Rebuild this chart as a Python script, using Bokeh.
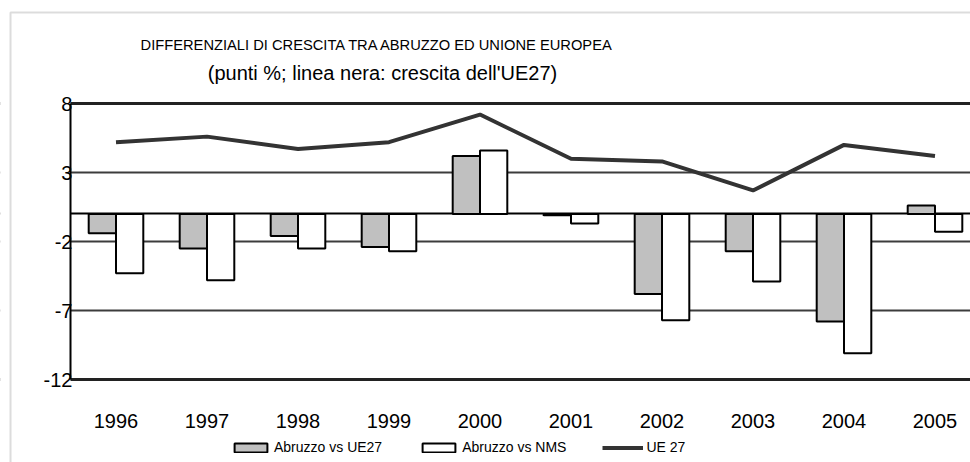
from bokeh.plotting import figure
from bokeh.models import (ColumnDataSource, FixedTicker, Legend, LegendItem,
                          Label, Grid, BoxAnnotation)
from bokeh.transform import dodge
from bokeh.embed import file_html
from bokeh.resources import INLINE

# ---- data ----
years = ["1996", "1997", "1998", "1999", "2000", "2001", "2002", "2003", "2004", "2005"]
abruzzo_vs_ue27 = [-1.4, -2.5, -1.6, -2.4, 4.2, -0.1, -5.8, -2.7, -7.8, 0.6]
abruzzo_vs_nms = [-4.3, -4.8, -2.5, -2.7, 4.6, -0.7, -7.7, -4.9, -10.1, -1.3]
ue27 = [5.2, 5.6, 4.7, 5.2, 7.2, 4.0, 3.8, 1.7, 5.0, 4.2]
y_ticks = [-12, -7, -2, 3, 8]
y_tick_labels = ["-12", "-7", "-2", "3", "8"]

title_text = "DIFFERENZIALI DI CRESCITA TRA ABRUZZO ED UNIONE EUROPEA"
subtitle_text = "(punti %; linea nera: crescita dell'UE27)"

FONT = "Liberation Sans"

idx = list(range(len(years)))
src = ColumnDataSource(dict(x=idx, a=abruzzo_vs_ue27, b=abruzzo_vs_nms, l=ue27))

# the frame covers the whole canvas; the chart area is the data box x:-0.5.., y:-12..8
p = figure(width=970, height=462, x_range=(-1.2692, 9.3901), y_range=(-18.014, 15.464),
           output_backend="svg", toolbar_location=None, title=None, min_border=0)
p.outline_line_color = None
p.background_fill_color = "white"
p.border_fill_color = "white"

AREA_X = (-0.5, 9.6)

# grid lines of the chart area
p.xgrid.visible = False
p.ygrid.ticker = FixedTicker(ticks=[-7, -2, 3])
p.ygrid.grid_line_color = "#3c3c3c"
p.ygrid.grid_line_width = 2
p.add_layout(Grid(dimension=1, ticker=FixedTicker(ticks=[-12, 8]),
                  grid_line_color="#222222", grid_line_width=3))
p.add_layout(Grid(dimension=1, ticker=FixedTicker(ticks=[0]),
                  grid_line_color="black", grid_line_width=2))
# mask the grid lines left of the chart area
p.add_layout(BoxAnnotation(left=-3, right=AREA_X[0], top=9, bottom=-13,
                           fill_color="white", fill_alpha=1, line_color=None,
                           level="underlay"))

# axes pinned to the chart area (no panel space)
p.xaxis.fixed_location = -12
p.xaxis.ticker = FixedTicker(ticks=idx)
p.xaxis.major_label_overrides = {i: y for i, y in zip(idx, years)}
p.xaxis.axis_line_color = None
p.xaxis.major_tick_line_color = None
p.xaxis.minor_tick_line_color = None
p.xaxis.major_label_standoff = 28
p.xaxis.major_label_text_font = FONT
p.xaxis.major_label_text_font_size = "20px"
p.xaxis.major_label_text_color = "black"

p.yaxis.fixed_location = -0.5
p.yaxis.ticker = FixedTicker(ticks=y_ticks)
p.yaxis.major_label_overrides = {t: s for t, s in zip(y_ticks, y_tick_labels)}
p.yaxis.bounds = (-12, 8)
p.yaxis.axis_line_color = "black"
p.yaxis.axis_line_width = 2
p.yaxis.major_tick_line_color = None
p.yaxis.minor_tick_line_color = None
p.yaxis.major_label_standoff = -8
p.yaxis.major_label_text_font = FONT
p.yaxis.major_label_text_font_size = "20px"
p.yaxis.major_label_text_color = "black"

# outer gray border of the chart object
p.add_layout(BoxAnnotation(left=-1.159, right=20, top=14.594, bottom=-30,
                           fill_color=None, fill_alpha=0,
                           line_color="#8a8a8a", line_width=2))

# bars
r1 = p.vbar(x=dodge("x", -0.15, range=p.x_range), top="a", bottom=0, width=0.3, source=src,
            fill_color="#c0c0c0", line_color="black", line_width=2)
r2 = p.vbar(x=dodge("x", 0.15, range=p.x_range), top="b", bottom=0, width=0.3, source=src,
            fill_color="white", line_color="black", line_width=2)
# line
r3 = p.line(x="x", y="l", source=src, line_color="#333333", line_width=4)

# titles
p.add_layout(Label(x=377, y=418, x_units="screen", y_units="screen", text=title_text,
                   text_align="center", text_baseline="middle", text_font=FONT,
                   text_font_size="14.7px", text_color="black"))
p.add_layout(Label(x=382, y=390, x_units="screen", y_units="screen", text=subtitle_text,
                   text_align="center", text_baseline="middle", text_font=FONT,
                   text_font_size="20px", text_color="black"))

legend = Legend(items=[LegendItem(label="Abruzzo vs UE27", renderers=[r1]),
                       LegendItem(label="Abruzzo vs NMS", renderers=[r2]),
                       LegendItem(label="UE 27", renderers=[r3])],
                orientation="horizontal", location=(230, 7))
legend.glyph_width = 41
legend.glyph_height = 11
legend.label_standoff = 3
legend.spacing = 36
legend.padding = 0
legend.margin = 0
legend.border_line_color = None
legend.background_fill_alpha = 0
legend.label_text_font = FONT
legend.label_text_font_size = "14px"
legend.label_text_color = "black"
p.add_layout(legend)

open("out.html", "w").write(file_html(p, INLINE))
